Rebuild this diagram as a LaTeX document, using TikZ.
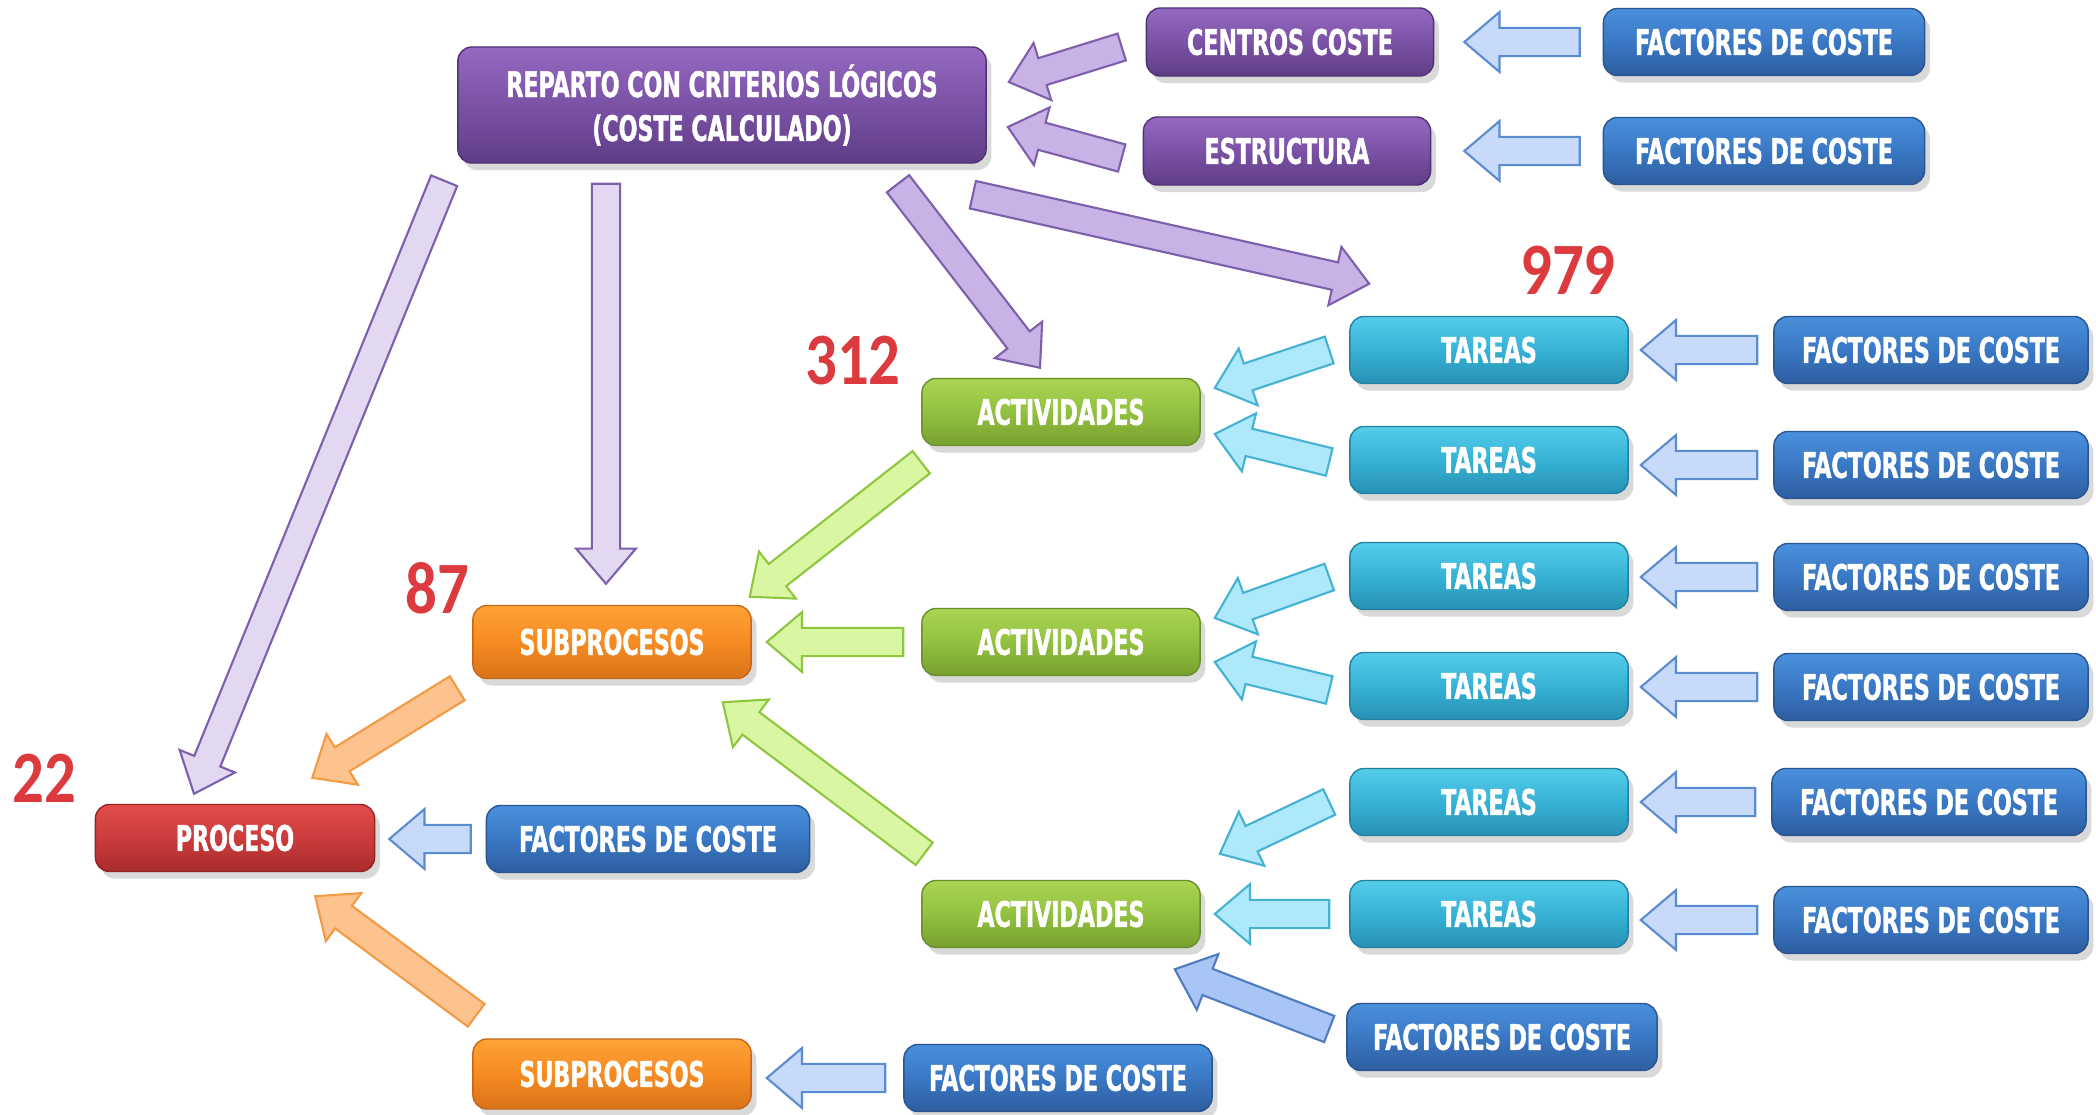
\documentclass[tikz,border=0pt]{standalone}
\usepackage{fontspec}
\newfontfamily\boxfont[FakeStretch=0.7,FakeBold=1.2]{DejaVu Sans Condensed}
\newfontfamily\numfont[FakeStretch=0.85]{Carlito}
\usetikzlibrary{calc,shadows}

\definecolor{purtop}{HTML}{9568C2}
\definecolor{purmid}{HTML}{7B52A6}
\definecolor{purbot}{HTML}{5E3D85}
\definecolor{purbord}{HTML}{4F3275}
\definecolor{factop}{HTML}{4A90DC}
\definecolor{facmid}{HTML}{3A78C4}
\definecolor{facbot}{HTML}{2D5D9F}
\definecolor{facbord}{HTML}{2A5590}
\definecolor{tartop}{HTML}{55CDEB}
\definecolor{tarmid}{HTML}{36B2D6}
\definecolor{tarbot}{HTML}{2790B3}
\definecolor{tarbord}{HTML}{23809F}
\definecolor{acttop}{HTML}{ABD553}
\definecolor{actmid}{HTML}{93C040}
\definecolor{actbot}{HTML}{77A02F}
\definecolor{actbord}{HTML}{6A8F2A}
\definecolor{subtop}{HTML}{FFA236}
\definecolor{submid}{HTML}{F58B22}
\definecolor{subbot}{HTML}{D97318}
\definecolor{subbord}{HTML}{C4681A}
\definecolor{protop}{HTML}{E24C4C}
\definecolor{promid}{HTML}{CC3B3B}
\definecolor{probot}{HTML}{A92C2C}
\definecolor{probord}{HTML}{942626}
\definecolor{numred}{HTML}{DC3A3E}

\definecolor{purfill}{HTML}{C9B3E6}
\definecolor{purline}{HTML}{7D5FAB}
\definecolor{palefill}{HTML}{E2D8F2}
\definecolor{blfill}{HTML}{C8DAFA}
\definecolor{blline}{HTML}{5B8BD0}
\definecolor{dbfill}{HTML}{A9C5F5}
\definecolor{dbline}{HTML}{4F7CC0}
\definecolor{cyfill}{HTML}{AEE9FB}
\definecolor{cyline}{HTML}{45B2D3}
\definecolor{grfill}{HTML}{D9F7A3}
\definecolor{grline}{HTML}{8EC63F}
\definecolor{orfill}{HTML}{FCC38F}
\definecolor{orline}{HTML}{F39A45}

\tikzstyle{box} = [rounded corners=4pt,minimum height=0.67cm,inner sep=0pt,align=center,text=white,
  font=\boxfont\bfseries\fontsize{10}{12.5}\selectfont,
  drop shadow={shadow xshift=1.5pt,shadow yshift=-2pt,opacity=0.3}]
\tikzstyle{purbox} = [box,draw=purbord,top color=purtop,bottom color=purbot,middle color=purmid,minimum width=2.87cm,minimum height=0.68cm]
\tikzstyle{facbox} = [box,draw=facbord,top color=factop,bottom color=facbot,middle color=facmid,minimum width=3.14cm]
\tikzstyle{tarbox} = [box,draw=tarbord,top color=tartop,bottom color=tarbot,middle color=tarmid,minimum width=2.78cm]
\tikzstyle{actbox} = [box,draw=actbord,top color=acttop,bottom color=actbot,middle color=actmid,minimum width=2.78cm]
\tikzstyle{subbox} = [box,draw=subbord,top color=subtop,bottom color=subbot,middle color=submid,minimum width=2.78cm]
\tikzstyle{probox} = [box,draw=probord,top color=protop,bottom color=probot,middle color=promid,minimum width=2.79cm]
\tikzstyle{count} = [font=\numfont\bfseries\fontsize{21}{21}\selectfont,text=numred]

\tikzstyle{purarrow} = [fill=purfill,draw=purline,line width=0.6pt,line join=miter]
\tikzstyle{palearrow} = [fill=palefill,draw=purline,line width=0.6pt]
\tikzstyle{blarrow} = [fill=blfill,draw=blline,line width=0.6pt]
\tikzstyle{dbarrow} = [fill=dbfill,draw=dbline,line width=0.6pt]
\tikzstyle{cyarrow} = [fill=cyfill,draw=cyline,line width=0.6pt]
\tikzstyle{grarrow} = [fill=grfill,draw=grline,line width=0.6pt]
\tikzstyle{orarrow} = [fill=orfill,draw=orline,line width=0.6pt]

% block arrow from #2 (tail) to #3 (tip)
\newcommand{\fashaft}{4pt}
\newcommand{\fawing}{8.5pt}
\newcommand{\fahead}{10pt}
\newcommand{\fatarrow}[3][]{%
  \path #2 coordinate (fa-s) #3 coordinate (fa-t);
  \path ($(fa-t)!\fahead!(fa-s)$) coordinate (fa-h);
  \draw[#1] ($(fa-s)!\fashaft!90:(fa-t)$) -- ($(fa-h)!\fashaft!-90:(fa-s)$)
    -- ($(fa-h)!\fawing!-90:(fa-s)$) -- (fa-t) -- ($(fa-h)!\fawing!90:(fa-s)$)
    -- ($(fa-h)!\fashaft!90:(fa-s)$) -- ($(fa-s)!\fashaft!-90:(fa-t)$) -- cycle;
}

\begin{document}
\begin{tikzpicture}[x=0.01cm,y=-0.01cm]
  \useasboundingbox (0,0) rectangle (2096,1115);

  %% top row
  \node[purbox,minimum width=5.28cm,minimum height=1.16cm] (rep) at (722,105)
    {REPARTO CON CRITERIOS LÓGICOS\\(COSTE CALCULADO)};
  \node[purbox] (cen) at (1290,42) {CENTROS COSTE};
  \node[purbox] (est) at (1287,151) {ESTRUCTURA};
  \node[facbox,minimum width=3.21cm] (fc1) at (1764,42) {FACTORES DE COSTE};
  \node[facbox,minimum width=3.21cm] (fc2) at (1764,151) {FACTORES DE COSTE};

  %% tareas and their cost factors
  \foreach \n/\ty/\fx/\fy in {1/350/1931/350, 2/460/1931/465, 3/576/1931/577,
    4/686/1931/687, 5/802/1929/802, 6/914/1931/920}
  {
    \node[tarbox] (tar\n) at (1489,\ty) {TAREAS};
    \node[facbox] (fr\n) at (\fx,\fy) {FACTORES DE COSTE};
  }
  \node[facbox,minimum width=3.10cm] (fbr) at (1502,1037) {FACTORES DE COSTE};

  %% actividades, subprocesos, proceso
  \foreach \n/\ay in {1/412, 2/642, 3/914}
    \node[actbox] (act\n) at (1061,\ay) {ACTIVIDADES};
  \node[subbox,minimum height=0.73cm] (sub1) at (612,642) {SUBPROCESOS};
  \node[subbox,minimum height=0.70cm] (sub2) at (612,1074) {SUBPROCESOS};
  \node[probox] (proc) at (235,838) {PROCESO};
  \node[facbox,minimum width=3.23cm] (fl) at (648,839) {FACTORES DE COSTE};
  \node[facbox,minimum width=3.08cm] (fb) at (1058,1078) {FACTORES DE COSTE};

  %% counts
  \node[count] (n979) at (1568,270) {979};
  \node[count] (n312) at (853,361) {312};
  \node[count] (n87) at (437,588) {87};
  \node[count] (n22) at (44,778) {22};

  %% arrows
  \fatarrow[purarrow]{($(cen.west)+(-24,5)$)}{($(rep.east)+(22,-23)$)}
  \fatarrow[purarrow]{($(est.west)+(-21,7)$)}{($(rep.east)+(21,22)$)}
  \fatarrow[palearrow]{($(rep.south west)+(-13,17)$)}{($(proc.north)+(-41,-10)$)}
  \fatarrow[palearrow]{($(rep.south)+(-116,20)$)}{($(sub1.north)+(-6,-21)$)}
  \fatarrow[purarrow]{($(rep.south)+(176,20)$)}{($(act1.north)+(-21,-10)$)}
  \fatarrow[purarrow]{($(rep.south east)+(-14,31)$)}{($(tar1.north west)+(20,-32)$)}

  \fatarrow[blarrow]{($(fc1.west)+(-23,0)$)}{($(cen.east)+(30,0)$)}
  \fatarrow[blarrow]{($(fc2.west)+(-23,0)$)}{($(est.east)+(33,0)$)}
  \foreach \n in {1,...,6}
  {
    \fatarrow[blarrow]{($(fr\n.west)+(-16,0)$)}{($(tar\n.east |- fr\n.west)+(12,0)$)}
  }
  \fatarrow[blarrow]{($(fl.west)+(-15,0)$)}{($(proc.east |- fl.west)+(14,0)$)}
  \fatarrow[blarrow]{($(fb.west)+(-18,0)$)}{($(sub2.east |- fb.west)+(15,0)$)}
  \fatarrow[dbarrow]{($(fbr.west)+(-17,-8)$)}{($(act3.south east)+(-26,21)$)}

  \fatarrow[cyarrow]{($(tar1.west)+(-20,0)$)}{($(act1.east)+(14,-24)$)}
  \fatarrow[cyarrow]{($(tar2.west)+(-20,2)$)}{($(act1.east)+(14,22)$)}
  \fatarrow[cyarrow]{($(tar3.west)+(-20,1)$)}{($(act2.east)+(14,-24)$)}
  \fatarrow[cyarrow]{($(tar4.west)+(-20,4)$)}{($(act2.east)+(14,20)$)}
  \fatarrow[cyarrow]{($(tar5.west)+(-20,0)$)}{($(act3.north east)+(19,-26)$)}
  \fatarrow[cyarrow]{($(tar6.west)+(-20,0)$)}{($(act3.east)+(14,0)$)}

  \fatarrow[grarrow]{($(act1.south west)+(0,16)$)}{($(sub1.north east)+(-2,-8)$)}
  \fatarrow[grarrow]{($(act2.west)+(-18,0)$)}{($(sub1.east |- act2.west)+(15,0)$)}
  \fatarrow[grarrow]{($(act3.north west)+(3,-26)$)}{($(sub1.south east)+(-29,23)$)}

  \fatarrow[orarrow]{($(sub1.south west)+(-15,9)$)}{($(proc.north east)+(-63,-26)$)}
  \fatarrow[orarrow]{($(sub2.north west)+(4,-23)$)}{($(proc.south east)+(-60,24)$)}
\end{tikzpicture}
\end{document}
